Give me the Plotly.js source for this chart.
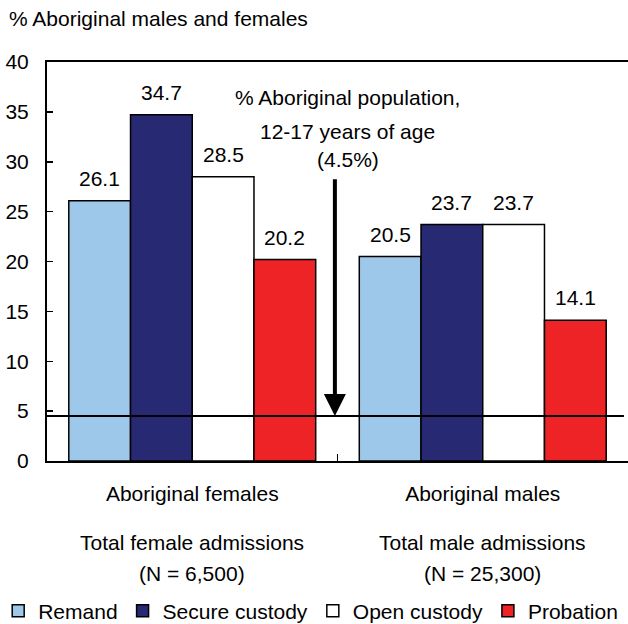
<!DOCTYPE html>
<html>
<head>
<meta charset="utf-8">
<script src="https://cdn.plot.ly/plotly-3.0.1.min.js"></script>
<style>html,body{margin:0;padding:0;background:#fff;}#chart{width:628px;height:624px;}</style>
</head>
<body>
<div id="chart"></div>
<script>
var categories = ["Aboriginal females", "Aboriginal males"];
var subLabels1 = ["Total female admissions", "Total male admissions"];
var subLabels2 = ["(N = 6,500)", "(N = 25,300)"];
var seriesNames = ["Remand", "Secure custody", "Open custody", "Probation"];
var remand = [26.1, 20.5];
var secure = [34.7, 23.7];
var openCustody = [28.5, 23.7];
var probation = [20.2, 14.1];
var seriesColors = ["#9DC8EA", "#272973", "#FFFFFF", "#EE2326"];
var popShare = 4.5;
var popLabel = ["% Aboriginal population,", "12-17 years of age", "(4.5%)"];
var yTicks = [0, 5, 10, 15, 20, 25, 30, 35, 40];

var FONT = "Liberation Sans, Arial, sans-serif";
var FS = 21;
var allSeries = [remand, secure, openCustody, probation];
var bargap = 0.15;

var traces = allSeries.map(function (vals, i) {
  return {
    type: "bar",
    name: seriesNames[i],
    x: categories,
    y: vals,
    marker: {color: seriesColors[i], line: {color: "#000", width: 1.5}},
    hoverinfo: "skip"
  };
});

var annotations = [];
var bw = (1 - bargap) / allSeries.length;
allSeries.forEach(function (vals, i) {
  vals.forEach(function (v, c) {
    annotations.push({
      x: c + (i - (allSeries.length - 1) / 2) * bw,
      y: v, xref: "x", yref: "y",
      text: v.toFixed(1), showarrow: false,
      yanchor: "bottom", yshift: 9,
      font: {size: FS, color: "#000", family: FONT}
    });
  });
});
categories.forEach(function (c, k) {
  annotations.push({x: k, y: 0, xref: "x", yref: "paper", text: subLabels1[k], showarrow: false,
    yanchor: "middle", yshift: -81, font: {size: FS, color: "#000", family: FONT}});
  annotations.push({x: k, y: 0, xref: "x", yref: "paper", text: subLabels2[k], showarrow: false,
    yanchor: "middle", yshift: -112, font: {size: FS, color: "#000", family: FONT}});
});
// arrow pointing at the population share line
annotations.push({
  x: 0.491, y: popShare, xref: "x", yref: "y",
  ax: 0.491, ay: 28.4, axref: "x", ayref: "y",
  showarrow: true, arrowhead: 2, arrowsize: 1.1, arrowwidth: 4, arrowcolor: "#000",
  text: ""
});
var popY = [36.4, 33.0, 30.2];
popLabel.forEach(function (t, k) {
  annotations.push({x: 0.536, y: popY[k], xref: "x", yref: "y", text: t, showarrow: false,
    yanchor: "middle", font: {size: FS, color: "#000", family: FONT}});
});
annotations.push({x: 0, y: 1, xref: "paper", yref: "paper", xanchor: "left", yanchor: "middle",
  text: "% Aboriginal males and females", showarrow: false, xshift: -40, yshift: 44,
  font: {size: FS, color: "#000", family: FONT}});

var layout = {
  width: 628, height: 624,
  margin: {l: 47, r: 0, t: 62, b: 163, autoexpand: false},
  paper_bgcolor: "#fff", plot_bgcolor: "#fff",
  font: {family: FONT, size: FS, color: "#000"},
  barmode: "group", bargap: bargap, bargroupgap: 0,
  showlegend: true,
  legend: {orientation: "h", x: -0.084, xanchor: "left", y: -0.376, yanchor: "middle",
    font: {size: FS, family: FONT, color: "#000"}, itemclick: false, tracegroupgap: 0},
  xaxis: {type: "category", showline: true, linecolor: "#000", linewidth: 2, mirror: true,
    ticks: "inside", ticklen: 7, tickcolor: "#000", tickwidth: 1.5, tickson: "boundaries",
    showgrid: false, zeroline: false, ticklabelstandoff: 13, fixedrange: true,
    tickfont: {size: FS, family: FONT, color: "#000"}},
  yaxis: {range: [0, 40], tickvals: yTicks, showline: true, linecolor: "#000", linewidth: 2,
    ticks: "inside", ticklen: 6, tickcolor: "#000", tickwidth: 1.5, showgrid: false, zeroline: false,
    ticklabelstandoff: 12, fixedrange: true, tickfont: {size: FS, family: FONT, color: "#000"}},
  shapes: [{type: "line", xref: "paper", yref: "y", x0: 0, x1: 0.993, y0: popShare, y1: popShare,
    line: {color: "#000", width: 2}}],
  annotations: annotations
};

Plotly.newPlot("chart", traces, layout, {displayModeBar: false, staticPlot: true});
</script>
</body>
</html>
